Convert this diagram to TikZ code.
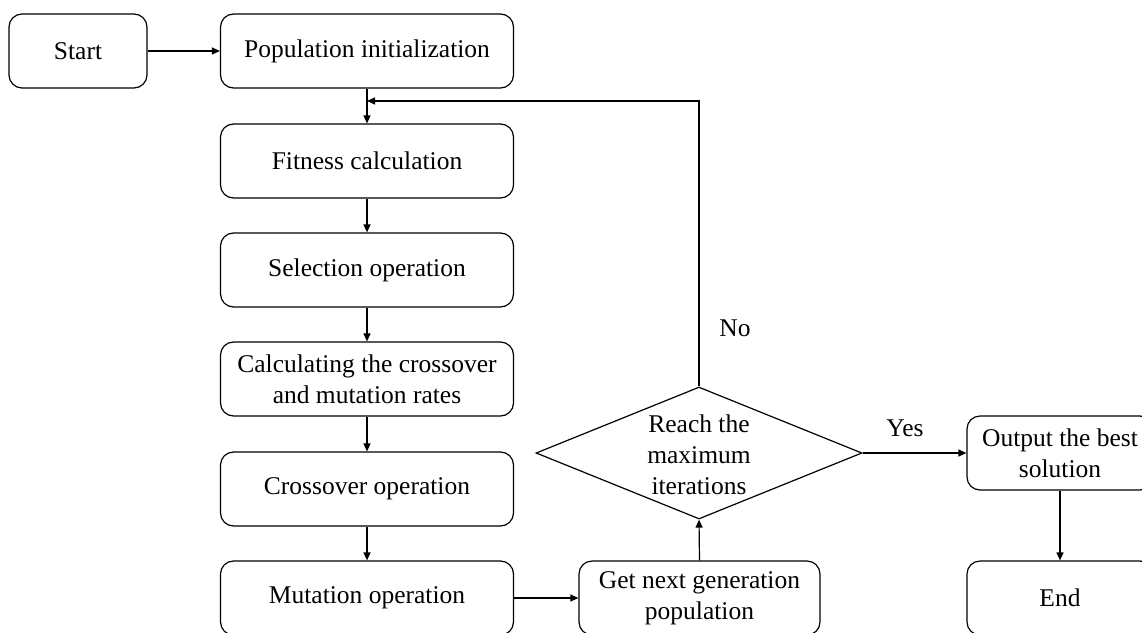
\documentclass[tikz,border=0pt]{standalone}
\usepackage{fontspec}
\setmainfont{Liberation Serif}
\usetikzlibrary{arrows.meta,shapes.geometric}
\begin{document}
\begin{tikzpicture}[x=1pt,y=-1pt,
  every node/.style={font=\fontsize{25.5}{31}\selectfont},
  box/.style={draw, line width=1.2pt, rounded corners=13pt, minimum height=74pt, inner sep=0pt, align=center},
  mainbox/.style={box, minimum width=293pt},
  dia/.style={draw, line width=1.2pt, shape=diamond, minimum width=326pt, minimum height=132pt, inner sep=0pt, aspect=2.47},
  conn/.style={line width=1.2pt, -{Triangle[length=8pt,width=7pt]}},
  lbl/.style={inner sep=0pt}
]
\clip (0,0) rectangle (1142,632);
\node[box, minimum width=138pt] (start) at (78,51) {Start};
\node[mainbox] (pop) at (367,51) {Population initialization};
\node[mainbox] (fit) at (367,161) {Fitness calculation};
\node[mainbox] (sel) at (367,270) {Selection operation};
\node[mainbox] (calc) at (367,379) {Calculating the crossover\\and mutation rates};
\node[mainbox] (cross) at (367,489) {Crossover operation};
\node[mainbox] (mut) at (367,598) {Mutation operation};
\node[box, minimum width=241pt] (next) at (699.5,598) {Get next generation\\population};
\node[dia] (dec) at (699,453) {};
\node[lbl, align=center] (dect) at (699,455) {Reach the\\maximum\\iterations};
\node[box, minimum width=186pt] (out) at (1060,453) {Output the best\\solution};
\node[box, minimum width=186pt] (end) at (1060,598) {End};
\node[lbl] (no) at (735,328) {No};
\node[lbl] (yes) at (905,428) {Yes};
\coordinate (fb) at (367,101);
\coordinate (corner) at (699,101);
\draw[conn] (start) -- (pop);
\draw[conn] (pop) -- (fit);
\draw[conn] (fit) -- (sel);
\draw[conn] (sel) -- (calc);
\draw[conn] (calc) -- (cross);
\draw[conn] (cross) -- (mut);
\draw[conn] (mut.east) -- (next.west |- mut.east);
\draw[conn] (next.north) -- (dec.south);
\draw[conn] (dec.east) -- (out.west);
\draw[conn] (out) -- (end);
\draw[conn] (dec.north) -- (corner) -- (fb);
\end{tikzpicture}
\end{document}
